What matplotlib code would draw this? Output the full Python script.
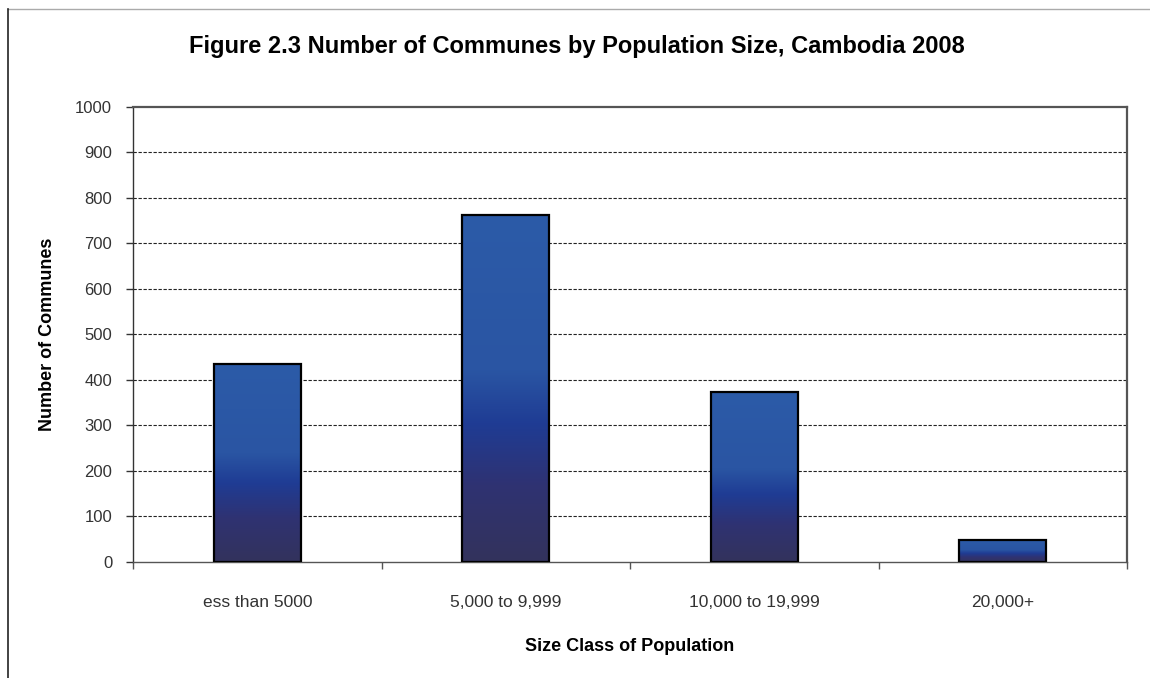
import numpy as np
import matplotlib.pyplot as plt
from matplotlib.colors import LinearSegmentedColormap
from matplotlib.lines import Line2D

plt.rcParams['font.family'] = ['Liberation Sans', 'DejaVu Sans']

# data
size_classes = ["ess than 5000", "5,000 to 9,999", "10,000 to 19,999", "20,000+"]
communes = [435, 762, 372, 47]
y_ticks = list(range(0, 1001, 100))

# vertical fill used inside each bar (bottom -> top)
bar_cmap = LinearSegmentedColormap.from_list(
    "bar_fill",
    [(0.0, "#33335c"), (0.22, "#2f3272"), (0.40, "#1f3c94"),
     (0.55, "#2a55a3"), (1.0, "#2c5ba8")],
)

fig = plt.figure(figsize=(11.5, 6.78), dpi=100)
ax = fig.add_axes([0.1157, 0.1718, 0.8643, 0.6704])

x = np.arange(len(size_classes))
bars = ax.bar(x, communes, width=0.35, facecolor="none", edgecolor="black",
              linewidth=1.6, zorder=3)

grad = np.linspace(0, 1, 256).reshape(-1, 1)
for b in bars:
    x0, y0 = b.get_x(), b.get_y()
    w, h = b.get_width(), b.get_height()
    ax.imshow(grad, cmap=bar_cmap, origin="lower", aspect="auto",
              extent=[x0, x0 + w, y0, y0 + h], zorder=2, interpolation="bilinear")

ax.set_xlim(-0.5, len(size_classes) - 0.5)
ax.set_ylim(0, 1000)

# dashed gridlines
for v in y_ticks[1:-1]:
    ax.axhline(v, color="#222222", linewidth=0.8, linestyle=(0, (3, 1.5)), zorder=1)

ax.set_yticks(y_ticks)
ax.set_xticks(x)
ax.set_xticklabels(size_classes)
ax.set_xticks(np.arange(len(size_classes) + 1) - 0.5, minor=True)

ax.tick_params(axis="y", direction="out", length=5, width=1, pad=10,
               labelsize=12, labelcolor="#333333", color="#333333")
ax.tick_params(axis="x", which="major", length=0, pad=24,
               labelsize=12.5, labelcolor="#333333")
ax.tick_params(axis="x", which="minor", direction="out", length=5, width=1,
               color="#555555")

for side in ["top", "right"]:
    ax.spines[side].set_color("#555555")
    ax.spines[side].set_linewidth(1.6)
ax.spines["left"].set_color("#333333")
ax.spines["bottom"].set_color("#555555")
ax.spines["left"].set_linewidth(1.0)
ax.spines["bottom"].set_linewidth(1.0)

ax.set_xlabel("Size Class of Population", fontsize=13, fontweight="bold",
              labelpad=20)
ax.set_ylabel("Number of Communes", fontsize=13, fontweight="bold", labelpad=14)

fig.text(0.502, 0.932, "Figure 2.3 Number of Communes by Population Size, Cambodia 2008",
         ha="center", va="center", fontsize=17, fontweight="bold")

# outer chart frame (top and left edges)
fig.add_artist(Line2D([0.007, 1.0], [0.987, 0.987], color="#aaaaaa", linewidth=1))
fig.add_artist(Line2D([0.007, 0.007], [0.0, 0.987], color="#222222", linewidth=1.2))

fig.savefig("out.png", dpi=100)
